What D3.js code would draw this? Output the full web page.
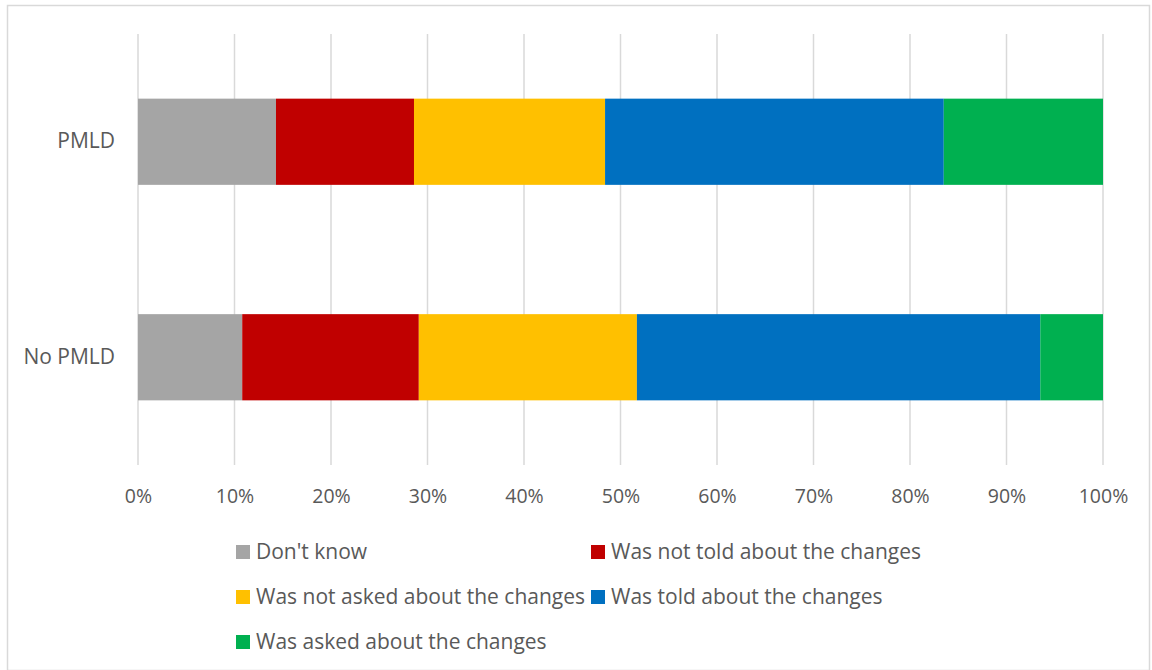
<!DOCTYPE html>
<meta charset="utf-8">
<head>
  <style>
    body { margin: 0; background: #fff; }
    #chart { font-family: "Open Sans", sans-serif; }
    .axis text { fill: #595959; }
    .legend text { fill: #595959; font-size: 21px; }
  </style>
</head>
<body>
  <svg id="chart"></svg>
  <script src="https://d3js.org/d3.v7.min.js"></script>
  <script>
    // data
    var groups = ["PMLD", "No PMLD"];
    var series = ["Don't know", "Was not told about the changes", "Was not asked about the changes",
                  "Was told about the changes", "Was asked about the changes"];
    var dontKnow  = [14.3, 10.8];
    var notTold   = [14.3, 18.3];
    var notAsked  = [19.8, 22.6];
    var told      = [35.1, 41.8];
    var asked     = [16.5, 6.5];
    var tickValues = [0, 10, 20, 30, 40, 50, 60, 70, 80, 90, 100];
    var colors = ["#a5a5a5", "#c00000", "#ffc000", "#0070c0", "#00b050"];

    var W = 1152, H = 670;
    var margin = {top: 34, left: 138, right: 49, bottom: 205};
    var width = W - margin.left - margin.right,
        height = H - margin.top - margin.bottom;

    var svg = d3.select("#chart").attr("width", W).attr("height", H);

    // outer border
    svg.append("rect")
      .attr("x", 7.5).attr("y", 5.5)
      .attr("width", W - 10).attr("height", H - 5)
      .attr("fill", "none").attr("stroke", "#d9d9d9").attr("stroke-width", 1.5);

    var g = svg.append("g").attr("transform", "translate(" + margin.left + "," + margin.top + ")");

    var x = d3.scaleLinear().domain([0, 100]).range([0, width]);
    var y = d3.scaleBand().domain(groups).range([0, height]).paddingInner(0.6).paddingOuter(0.3);

    // gridlines
    g.selectAll(".grid")
      .data(tickValues)
      .enter().append("line")
      .attr("x1", function(d) { return x(d); })
      .attr("x2", function(d) { return x(d); })
      .attr("y1", 0).attr("y2", height)
      .attr("stroke", "#d9d9d9").attr("stroke-width", 1.5);

    // stack
    var rows = groups.map(function(grp, i) {
      return {group: grp, 0: dontKnow[i], 1: notTold[i], 2: notAsked[i], 3: told[i], 4: asked[i]};
    });
    var stacked = d3.stack().keys([0, 1, 2, 3, 4])(rows);

    g.selectAll(".layer")
      .data(stacked)
      .enter().append("g")
      .attr("fill", function(d, i) { return colors[i]; })
      .selectAll("rect")
      .data(function(d) { return d; })
      .enter().append("rect")
      .attr("x", function(d) { return x(d[0]); })
      .attr("width", function(d) { return x(d[1]) - x(d[0]); })
      .attr("y", function(d) { return y(d.data.group); })
      .attr("height", y.bandwidth());

    // x axis
    var xAxis = g.append("g")
      .attr("class", "axis")
      .attr("transform", "translate(0," + height + ")")
      .call(d3.axisBottom(x).tickValues(tickValues).tickSize(0).tickPadding(24)
        .tickFormat(function(d) { return d + "%"; }));
    xAxis.select(".domain").remove();
    xAxis.selectAll("text").style("font-family", "Open Sans").style("font-size", "19.5px");

    // y axis
    var yAxis = g.append("g")
      .attr("class", "axis")
      .call(d3.axisLeft(y).tickSize(0).tickPadding(23));
    yAxis.select(".domain").remove();
    yAxis.selectAll("text").style("font-family", "Open Sans").style("font-size", "21px");

    // legend
    var legendPos = [[236, 552], [591, 552], [236, 597], [591, 597], [236, 642]];
    var legend = svg.append("g").attr("class", "legend");
    series.forEach(function(s, i) {
      var item = legend.append("g").attr("transform", "translate(" + legendPos[i][0] + "," + legendPos[i][1] + ")");
      item.append("rect").attr("x", 0).attr("y", -7).attr("width", 14).attr("height", 14).attr("fill", colors[i]);
      item.append("text").attr("x", 20).attr("dy", "0.35em").text(s);
    });
  </script>
</body>
